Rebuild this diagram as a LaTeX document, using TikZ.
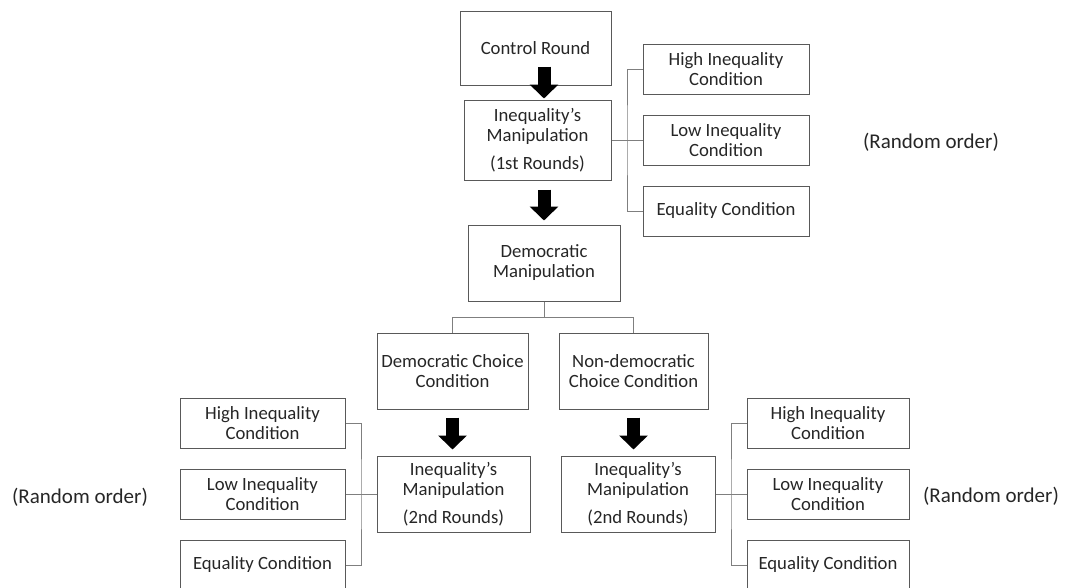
\documentclass[tikz,border=0pt]{standalone}
\usepackage{fontspec}
\setmainfont{Carlito}
\usepackage{xcolor}
\usepackage{tikz}
\usetikzlibrary{calc,arrows.meta}
\definecolor{ink}{HTML}{262626}
\definecolor{frame}{HTML}{595959}
\definecolor{wire}{HTML}{7F7F7F}
\tikzset{
  box/.style={draw=frame, line width=1pt, text=ink, align=center, inner sep=0pt,
    font=\fontsize{18.7}{20}\selectfont},
  cond/.style={box, minimum height=50pt},
  link/.style={draw=wire, line width=0.9pt},
  fat/.style={draw=black, line width=13pt, -{Triangle[width=28pt,length=14pt]}},
  note/.style={text=ink, font=\fontsize{21}{24}\selectfont},
}
\begin{document}
\begin{tikzpicture}[x=1pt,y=-1pt]
  \useasboundingbox (0,0) rectangle (1072,587);
  \node[box, minimum width=151pt, minimum height=74pt] (ctrl) at (535.5,48) {Control Round};
  \node[box, minimum width=147pt, minimum height=80pt] (inq1) at (537.5,140)
    {Inequality’s\\Manipulation\\[8pt](1st Rounds)};
  \node[cond, minimum width=166pt] (high1) at (726,69) {High Inequality\\Condition};
  \node[cond, minimum width=166pt] (low1) at (726,140) {Low Inequality\\Condition};
  \node[cond, minimum width=166pt] (eq1) at (726,211) {Equality Condition};
  \node[box, minimum width=152pt, minimum height=76pt] (dem) at (544,263) {Democratic\\Manipulation};
  \node[box, minimum width=151pt, minimum height=76pt] (dchoice) at (452.5,371) {Democratic Choice\\Condition};
  \node[box, minimum width=149pt, minimum height=76pt] (ndchoice) at (633.5,371) {Non-democratic\\Choice Condition};
  \node[box, minimum width=153pt, minimum height=76pt] (inq2a) at (453.5,494)
    {Inequality’s\\Manipulation\\[8pt](2nd Rounds)};
  \node[box, minimum width=154pt, minimum height=76pt] (inq2b) at (638,494)
    {Inequality’s\\Manipulation\\[8pt](2nd Rounds)};
  \node[cond, minimum width=165pt] (high2) at (262.5,423) {High Inequality\\Condition};
  \node[cond, minimum width=165pt] (low2) at (262.5,494) {Low Inequality\\Condition};
  \node[cond, minimum width=165pt] (eq2) at (262.5,565) {Equality Condition};
  \node[cond, minimum width=162pt] (high3) at (828,423) {High Inequality\\Condition};
  \node[cond, minimum width=162pt] (low3) at (828,494) {Low Inequality\\Condition};
  \node[cond, minimum width=162pt] (eq3) at (828,565) {Equality Condition};
  \node[note] (rand1) at (931,142) {(Random order)};
  \node[note] (rand2) at (80,497) {(Random order)};
  \node[note] (rand3) at (991,496) {(Random order)};

  \draw[fat] ([yshift=19pt]ctrl.south -| dem.north) -- ([yshift=1pt]inq1.north -| dem.north);
  \draw[fat] ([yshift=-9pt]inq1.south -| dem.north) -- ([yshift=4pt]dem.north);
  \draw[fat] ([yshift=-8pt]dchoice.south) -- ([yshift=6pt]inq2a.north -| dchoice.south);
  \draw[fat] ([yshift=-8pt]ndchoice.south) -- ([yshift=6pt]inq2b.north -| ndchoice.south);

  \draw[link] (inq1.east) -- (low1.west);
  \draw[link] (high1.west) -| ($(inq1.east)!0.5!(low1.west)$) |- (eq1.west);
  \draw[link] (dem.south) -- ++(0,16);
  \draw[link] (dchoice.north) |- ($(dem.south)+(0,16)$) -| (ndchoice.north);
  \draw[link] (low2.east) -- (inq2a.west);
  \draw[link] (high2.east) -| ($(low2.east)!0.5!(inq2a.west)$) |- (eq2.east);
  \draw[link] (inq2b.east) -- (low3.west);
  \draw[link] (high3.west) -| ($(inq2b.east)!0.5!(low3.west)$) |- (eq3.west);
\end{tikzpicture}
\end{document}
